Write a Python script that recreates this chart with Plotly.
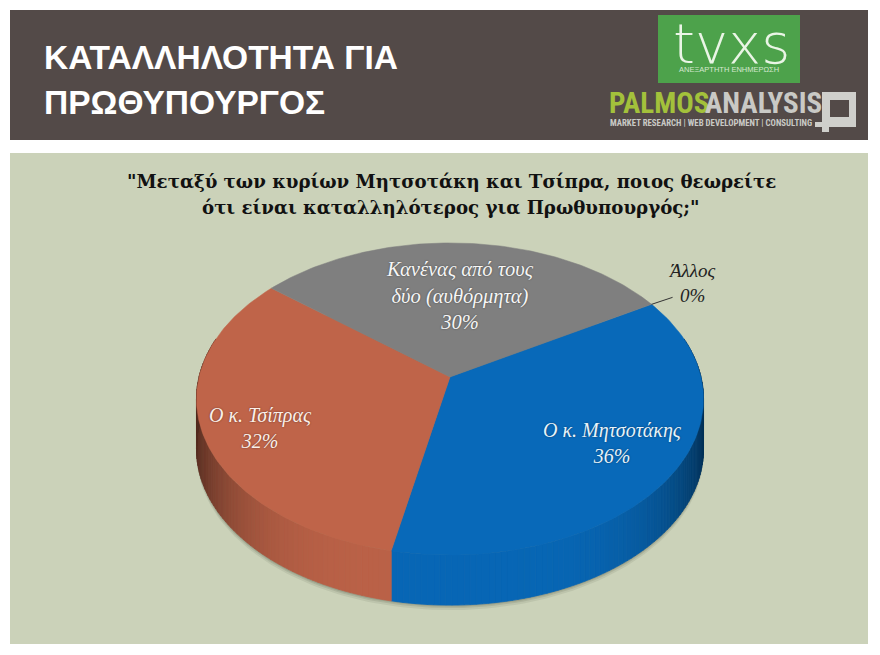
import numpy as np
import plotly.graph_objects as go

# ---- data ----
categories = ["Ο κ. Μητσοτάκης", "Ο κ. Τσίπρας", "Κανένας από τους<br>δύο (αυθόρμητα)", "Άλλος"]
values = [36, 32, 30, 0]
slice_colors = ["#0869B9", "#BF6449", "#7F7F7F", "#5a5a5a"]
title_lines = ["ΚΑΤΑΛΛΗΛΟΤΗΤΑ ΓΙΑ", "ΠΡΩΘΥΠΟΥΡΓΟΣ"]
question_lines = ['"Μεταξύ των κυρίων Μητσοτάκη και Τσίπρα, ποιος θεωρείτε',
                  'ότι είναι καταλληλότερος για Πρωθυπουργός;"']

# ---- perspective pie geometry ----
CX, CY = 450, 377
A, C, K = 251, 153, 0.141
DEPTH = 50
START_DEG = 30.6


def project(theta, dy=0.0):
    X, Y = np.cos(theta), -np.sin(theta)
    den = 1 - K * Y
    return CX + A * X / den, CY + C * Y / den + dy


def darken(hex_color, f):
    r, g, b = int(hex_color[1:3], 16), int(hex_color[3:5], 16), int(hex_color[5:7], 16)
    return f"rgb({int(r*f)},{int(g*f)},{int(b*f)})"


total = sum(values)
edges = np.radians(START_DEG) - np.cumsum([0] + values) / total * 2 * np.pi

fig = go.Figure()

# soft shadow under the pie
tt = np.linspace(0, 2 * np.pi, 240)
for grow, alpha in [(5, 0.10), (3, 0.14), (1.5, 0.18)]:
    sx, sy = project(tt, DEPTH + grow)
    fig.add_trace(go.Scatter(x=sx, y=sy, mode="lines", fill="toself", line=dict(width=0),
                             fillcolor=f"rgba(70,75,60,{alpha})", hoverinfo="skip", showlegend=False))

# side wall, drawn in thin shaded strips
for i, col in enumerate(slice_colors):
    if values[i] == 0:
        continue
    a0, a1 = edges[i], edges[i + 1]
    n = max(2, int(abs(a0 - a1) / np.radians(1.2)))
    steps = np.linspace(a0, a1, n + 1)
    for s0, s1 in zip(steps[:-1], steps[1:]):
        mid = (s0 + s1) / 2
        if np.sin(mid) > 0.25:
            continue
        shade = 0.98 - 0.55 * abs(np.cos(mid)) ** 4
        seg = np.array([s0, s1])
        tx, ty = project(seg)
        bx, by = project(seg, DEPTH)
        fig.add_trace(go.Scatter(x=[tx[0], tx[1], bx[1], bx[0], tx[0]],
                                 y=[ty[0], ty[1], by[1], by[0], ty[0]],
                                 mode="lines", fill="toself", line=dict(width=0.8, color=darken(col, shade)),
                                 fillcolor=darken(col, shade), hoverinfo="skip", showlegend=False))

# top face
for name, v, col, a0, a1 in zip(categories, values, slice_colors, edges[:-1], edges[1:]):
    if v == 0:
        continue
    arc = np.linspace(a0, a1, 120)
    ax, ay = project(arc)
    fig.add_trace(go.Scatter(x=np.r_[CX, ax, CX], y=np.r_[CY, ay, CY], mode="lines", fill="toself",
                             line=dict(width=0.5, color=col), fillcolor=col,
                             name=name.replace("<br>", " "), text=f"{v}%", hoverinfo="name+text",
                             showlegend=False))

# leader line of the zero slice
lx, ly = project(np.array([edges[3]]))
fig.add_trace(go.Scatter(x=[lx[0], lx[0] + 21], y=[ly[0], ly[0] - 7], mode="lines",
                         line=dict(color="#333", width=1), hoverinfo="skip", showlegend=False))

serif = "Liberation Serif"
narrow = "Noto Sans ExtraCondensed, Noto Sans Condensed, Roboto Condensed, Open Sans Condensed, DejaVu Sans Condensed, Liberation Sans"
ann = []


def text(x, y, t, size, color, family, **kw):
    f = dict(size=size, color=color, family=family)
    for key in ("shadow", "weight"):
        if key in kw:
            f[key] = kw.pop(key)
    ann.append(dict(x=x, y=y, text=t, font=f, showarrow=False, xanchor=kw.pop("xanchor", "center"),
                    yanchor="middle", xref="x", yref="y", **kw))


# header
text(42, 57, f"<b>{title_lines[0]}</b>", 33.5, "white", "Liberation Sans", xanchor="left")
text(42, 102, f"<b>{title_lines[1]}</b>", 33.5, "white", "Liberation Sans", xanchor="left")
text(731, 43, "tvxs", 56, "#EAF5E6", "DejaVu Sans ExtraLight, DejaVu Sans", weight=200)
text(729, 69, "ΑΝΕΞΑΡΤΗΤΗ ΕΝΗΜΕΡΩΣΗ", 7.5, "#D5E8CF", "Liberation Sans")
text(607, 103, "<b>PALMOS</b>", 29, "#A3C13B", narrow, xanchor="left")
text(703, 103, "<b>ANALYSIS</b>", 29, "#C9C9C5", narrow, xanchor="left")
text(608, 123, "<b>MARKET RESEARCH | WEB DEVELOPMENT | CONSULTING</b>", 8.8, "#C9C9C5", narrow, xanchor="left")

# question
text(451, 181, f"<b>{question_lines[0]}</b>", 18.2, "#111", "DejaVu Serif")
text(451, 207, f"<b>{question_lines[1]}</b>", 18.2, "#111", "DejaVu Serif")

# pie labels
lab_shadow = "0px 0px 2px rgba(0,0,0,0.45)"
text(612, 443, f"<i>{categories[0]}<br>{values[0]}%</i>", 20, "#E8F3FA", serif, shadow=lab_shadow)
text(260, 428, f"<i>{categories[1]}<br>{values[1]}%</i>", 20, "#FBEFE9", serif, shadow=lab_shadow)
text(460, 295, f"<i>{categories[2]}<br>{values[2]}%</i>", 20.5, "#F6F6F6", serif, shadow=lab_shadow)
text(692, 283, f"<i>{categories[3]}<br>{values[3]}%</i>", 19, "#222", serif)

icon = "#CFCFCB"
shapes = [
    dict(type="rect", x0=10, x1=868, y0=10, y1=140, fillcolor="#534A48", line_width=0, layer="below"),
    dict(type="rect", x0=10, x1=868, y0=153, y1=644, fillcolor="#CBD2B9", line_width=0, layer="below"),
    dict(type="rect", x0=658, x1=800, y0=15, y1=83, fillcolor="#4DA24B", line_width=0, layer="below"),
    dict(type="rect", x0=822, x1=856, y0=92, y1=127, fillcolor=icon, line_width=0, layer="below"),
    dict(type="rect", x0=830, x1=849, y0=100, y1=117, fillcolor="#534A48", line_width=0, layer="below"),
    dict(type="rect", x0=822, x1=829, y0=127, y1=132, fillcolor=icon, line_width=0, layer="below"),
    dict(type="rect", x0=815, x1=822, y0=122, y1=127, fillcolor=icon, line_width=0, layer="below"),
]

fig.update_layout(
    width=880, height=655, margin=dict(l=0, r=0, t=0, b=0),
    paper_bgcolor="white", plot_bgcolor="white", showlegend=False,
    xaxis=dict(range=[0, 880], visible=False, fixedrange=True),
    yaxis=dict(range=[655, 0], visible=False, fixedrange=True),
    shapes=shapes, annotations=ann,
)
fig.write_html("out.html", post_script="document.body.style.margin='0';", config={"displayModeBar": False})
